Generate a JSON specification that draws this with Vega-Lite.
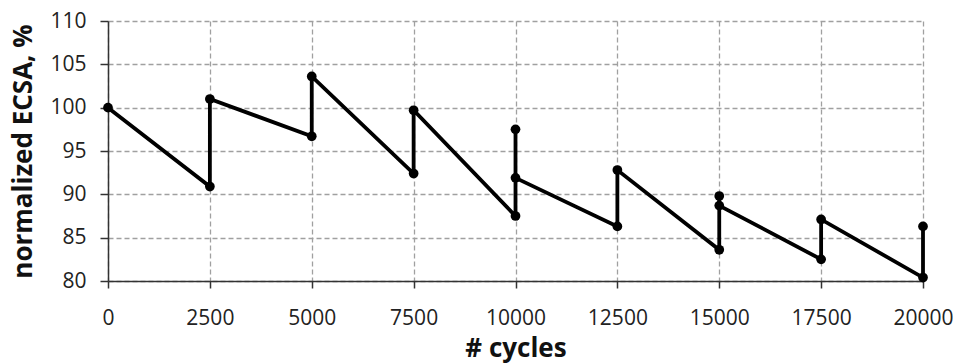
{
  "$schema": "https://vega.github.io/schema/vega-lite/v6.json",
  "autosize": {"type": "none"},
  "padding": {"left": 108, "top": 21, "right": 30, "bottom": 82},
  "width": 815,
  "height": 260,
  "background": "white",
  "data": {
    "values": [
      {"step": 1, "cycles": 0, "ecsa": 100.0},
      {"step": 2, "cycles": 2500, "ecsa": 90.9},
      {"step": 3, "cycles": 2500, "ecsa": 101.0},
      {"step": 4, "cycles": 5000, "ecsa": 96.7},
      {"step": 5, "cycles": 5000, "ecsa": 103.6},
      {"step": 6, "cycles": 7500, "ecsa": 92.4},
      {"step": 7, "cycles": 7500, "ecsa": 99.7},
      {"step": 8, "cycles": 10000, "ecsa": 87.5},
      {"step": 9, "cycles": 10000, "ecsa": 97.5},
      {"step": 10, "cycles": 10000, "ecsa": 91.9},
      {"step": 11, "cycles": 12500, "ecsa": 86.3},
      {"step": 12, "cycles": 12500, "ecsa": 92.8},
      {"step": 13, "cycles": 15000, "ecsa": 83.6},
      {"step": 14, "cycles": 15000, "ecsa": 89.8},
      {"step": 15, "cycles": 15000, "ecsa": 88.7},
      {"step": 16, "cycles": 17500, "ecsa": 82.5},
      {"step": 17, "cycles": 17500, "ecsa": 87.1},
      {"step": 18, "cycles": 20000, "ecsa": 80.4},
      {"step": 19, "cycles": 20000, "ecsa": 86.3}
    ]
  },
  "config": {
    "view": {"stroke": null},
    "font": "Open Sans",
    "axis": {
      "labelFont": "Open Sans",
      "labelFontSize": 21,
      "labelColor": "#222222",
      "titleFont": "Open Sans",
      "titleFontWeight": "bold",
      "titleFontSize": 26,
      "titleColor": "#111111",
      "gridColor": "#a0a0a0",
      "gridDash": [5, 3],
      "gridWidth": 1.3,
      "gridOpacity": 1,
      "domainColor": "#333333",
      "domainWidth": 1.5,
      "tickColor": "#333333",
      "tickWidth": 1.5
    }
  },
  "encoding": {
    "x": {
      "field": "cycles",
      "type": "quantitative",
      "scale": {"domain": [0, 20000], "nice": false, "zero": false},
      "axis": {
        "title": "# cycles",
        "titlePadding": 7,
        "values": [0, 2500, 5000, 7500, 10000, 12500, 15000, 17500, 20000],
        "format": "d",
        "labelPadding": 19,
        "tickSize": 7,
        "labelFlush": false
      }
    },
    "y": {
      "field": "ecsa",
      "type": "quantitative",
      "scale": {"domain": [80, 110], "nice": false, "zero": false},
      "axis": {
        "title": "normalized ECSA, %",
        "titlePadding": 13,
        "values": [80, 85, 90, 95, 100, 105, 110],
        "labelPadding": 14,
        "tickSize": 8
      }
    }
  },
  "layer": [
    {
      "mark": {"type": "line", "color": "black", "strokeWidth": 3.8},
      "encoding": {"order": {"field": "step", "type": "quantitative"}}
    },
    {
      "mark": {"type": "point", "filled": true, "color": "black", "opacity": 1, "size": 95}
    }
  ]
}
